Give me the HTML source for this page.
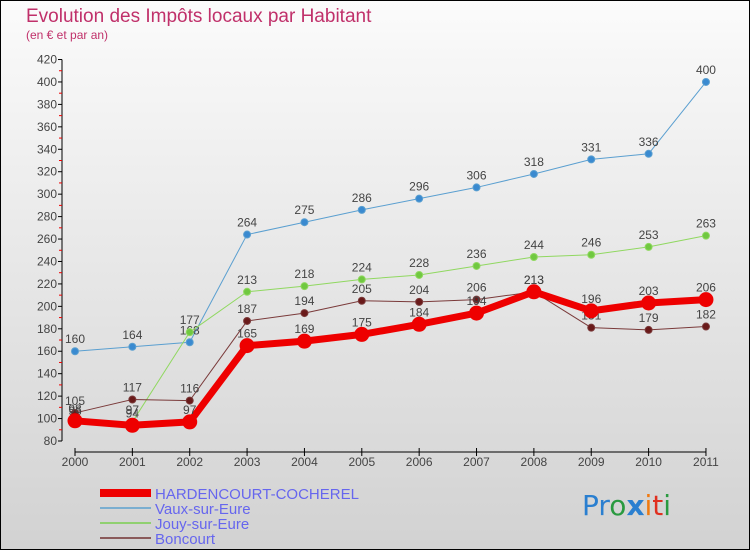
<!DOCTYPE html>
<html><head><meta charset="utf-8"><style>
html,body{margin:0;padding:0}
body{width:750px;height:550px;overflow:hidden;font-family:"Liberation Sans",sans-serif}
</style></head><body>
<svg width="750" height="550" xmlns="http://www.w3.org/2000/svg">
<defs><linearGradient id="bg" x1="0" y1="0" x2="0" y2="1"><stop offset="0" stop-color="#fbfbfb"/><stop offset="1" stop-color="#d2d2d2"/></linearGradient></defs>
<rect x="0.5" y="0.5" width="749" height="549" fill="url(#bg)" stroke="#000"/>
<text x="26" y="22" font-size="19" fill="#c0306a">Evolution des Impôts locaux par Habitant</text>
<text x="26" y="39" font-size="12" fill="#c0306a">(en € et par an)</text>
<g id="axes"></g>
<g id="series"></g>
<g>
<rect x="100" y="489" width="51" height="8" fill="#e00"/>
<text x="155" y="499" font-size="15" fill="#6666ee">HARDENCOURT-COCHEREL</text>
<rect x="100" y="507" width="51" height="2" fill="#7aaed0"/>
<text x="155" y="514" font-size="15" fill="#6666ee">Vaux-sur-Eure</text>
<rect x="100" y="522" width="51" height="2" fill="#90d070"/>
<text x="155" y="529" font-size="15" fill="#6666ee">Jouy-sur-Eure</text>
<rect x="100" y="537" width="51" height="2" fill="#8a5a5a"/>
<text x="155" y="544" font-size="15" fill="#6666ee">Boncourt</text>
</g>
<g font-size="28" font-family="'DejaVu Sans',sans-serif">
<text x="582" y="515"><tspan fill="#2a7fd0">Pr</tspan><tspan fill="#2a9a40">o</tspan><tspan fill="#2a7fd0" font-weight="bold">x</tspan><tspan fill="#f07a10">i</tspan><tspan fill="#e03020">t</tspan><tspan fill="#2a9a40">i</tspan></text>
</g>
</svg>
<script>
const years=[2000,2001,2002,2003,2004,2005,2006,2007,2008,2009,2010,2011];
const hardencourt=[98,94,97,165,169,175,184,194,213,196,203,206];
const vaux=[160,164,168,264,275,286,296,306,318,331,336,400];
const jouy=[96,97,177,213,218,224,228,236,244,246,253,263];
const boncourt=[105,117,116,187,194,205,204,206,213,181,179,182];
const yTicks=[80,100,120,140,160,180,200,220,240,260,280,300,320,340,360,380,400,420];
const NS="http://www.w3.org/2000/svg";
const X=i=>75+i*57.36;
const Y=v=>441-(v-80)*1.122;
function mk(tag,attrs,parent){const e=document.createElementNS(NS,tag);for(const k in attrs)e.setAttribute(k,attrs[k]);parent.appendChild(e);return e;}
const ax=document.getElementById('axes');
let yl=mk('line',{x1:62,x2:62,y1:Y(420),y2:Y(80),stroke:'#000'},ax);


yTicks.forEach((t,i)=>{
 mk('line',{x1:58,x2:62,y1:Y(t),y2:Y(t),stroke:'#000'},ax);
 if(i<yTicks.length-1)mk('line',{x1:59,x2:62,y1:Y(t+10),y2:Y(t+10),stroke:'#e00'},ax);
 const tx=mk('text',{x:57,y:Y(t)+4,'font-size':12,fill:'#444','text-anchor':'end'},ax);
 tx.textContent=t;
 
 
});
let xl=mk('line',{x1:X(0),x2:X(11),y1:452,y2:452,stroke:'#000'},ax);


years.forEach((yr,i)=>{
 mk('line',{x1:X(i),x2:X(i),y1:448,y2:456,stroke:'#000'},ax);
 const tx=mk('text',{x:X(i),y:466,'font-size':12,fill:'#444','text-anchor':'middle'},ax);
 tx.textContent=yr;
 
 
});
const sg=document.getElementById('series');
function draw(name,data,color,width,r,dot,labels){
 const g=mk('g',{},sg);
 
 
 const pl=mk('polyline',{points:data.map((v,i)=>X(i)+','+Y(v)).join(' '),fill:'none',stroke:color,'stroke-width':width,'stroke-linejoin':'round'},g);
 
 
 data.forEach((v,i)=>{
  const c=mk('circle',{cx:X(i),cy:Y(v),r:r,fill:dot,stroke:color,'stroke-width':1},g);
  
  
  if(labels){const t=mk('text',{x:X(i),y:Y(v)-8,'font-size':12,fill:'#444','text-anchor':'middle'},g);
  t.textContent=v;
  
  }
 });
}
draw('vaux',vaux,'#5a9fd0',1,3.5,'#3a8ad0',true);
draw('jouy',jouy,'#90d860',1,3.5,'#70c840',true);
draw('boncourt',boncourt,'#7a3a3a',1,3.5,'#6a1a1a',true);
draw('hardencourt',hardencourt,'#ee0000',7,7,'#ee0000',true);
</script>
</body></html>
